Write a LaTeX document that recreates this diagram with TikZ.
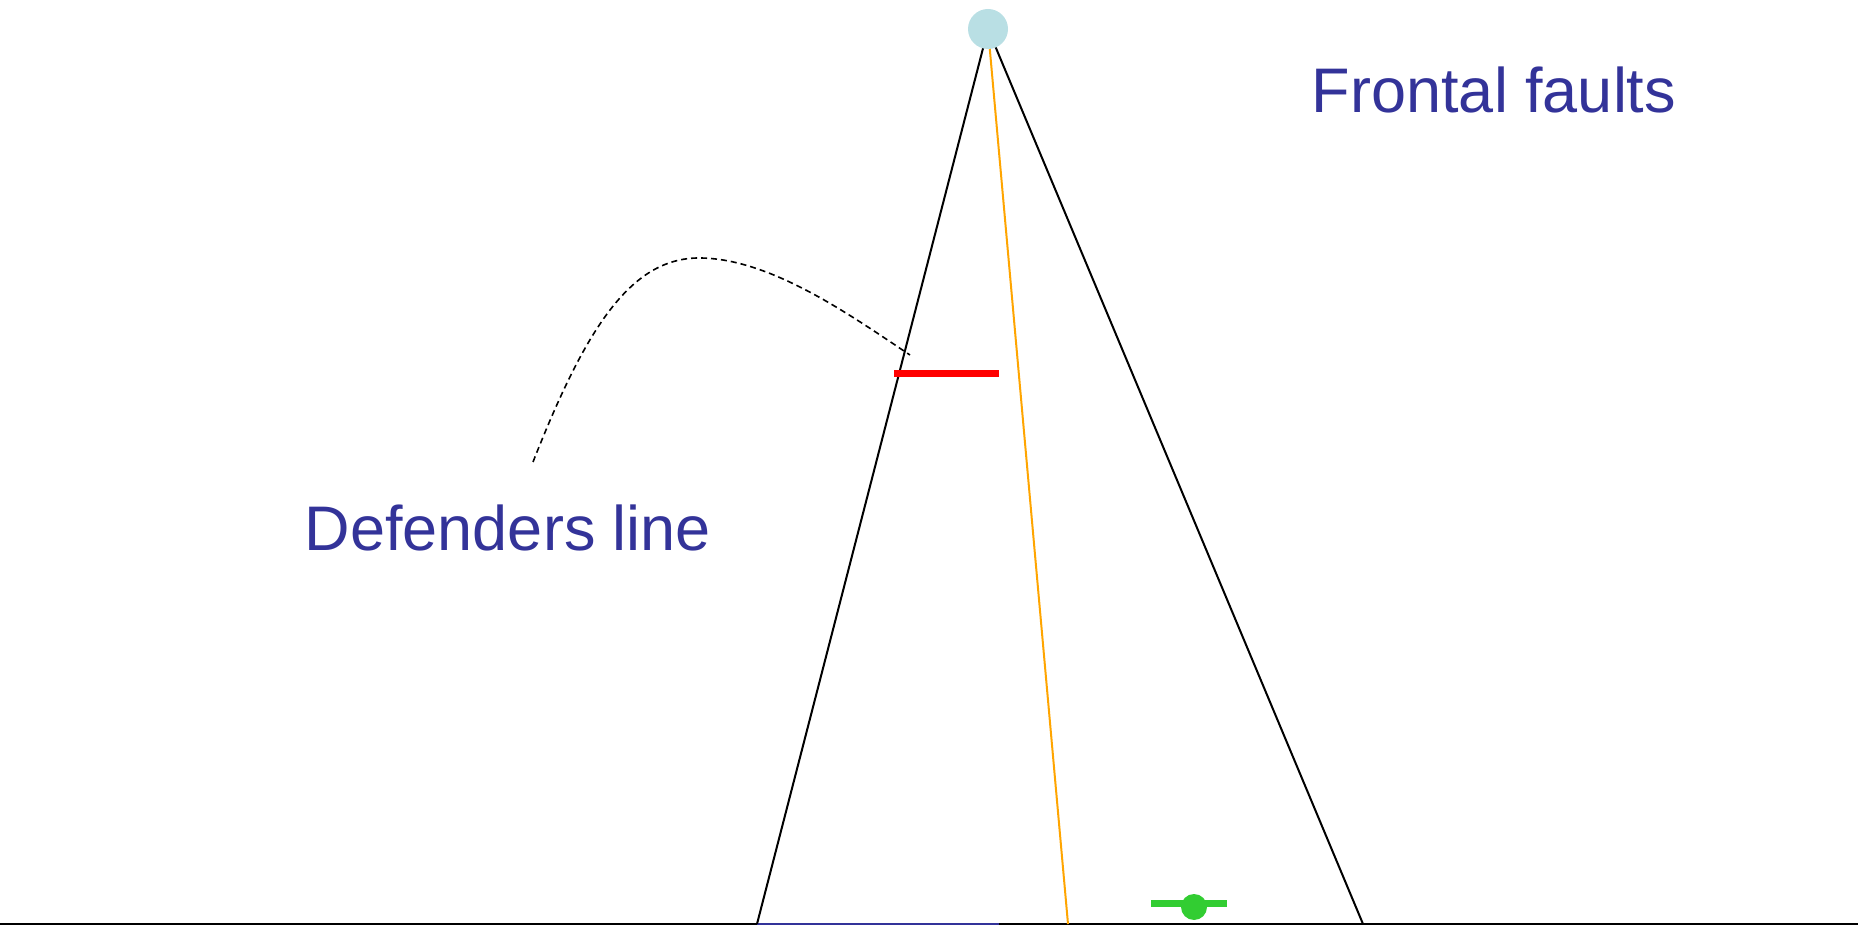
\documentclass[tikz,border=0pt]{standalone}
\usepackage{fontspec}
\setmainfont{Liberation Sans}
\usepackage{xcolor}
\definecolor{faultblue}{RGB}{51,51,153}
\definecolor{apexblue}{RGB}{185,223,228}
\definecolor{rayorange}{RGB}{255,165,0}
\definecolor{markgreen}{RGB}{50,205,50}

\begin{document}
\begin{tikzpicture}[x=0.5pt,y=-0.5pt]
  \useasboundingbox (0,0) rectangle (1858,929);
  \coordinate (P) at (988,29);
  \coordinate (L) at (757,924);
  \coordinate (R) at (1363,924);
  \coordinate (M) at (1068,924);
  \draw[line width=1pt] (0,924)--(1858,924);
  \draw[faultblue,line width=1pt] (L)--(999,924);
  \draw[line width=1pt] (P)--(L);
  \draw[line width=1pt] (P)--(R);
  \draw[rayorange,line width=1pt] (P)--(M);
  \fill[apexblue] (P) circle (20);
  \draw[red,line width=3.5pt] (894,374)--(999,374);
  \draw[markgreen,line width=3.5pt] (1151,903)--(1227,903);
  \fill[markgreen] (1194,907) circle (13);
  \draw[line width=0.8pt,dash pattern=on 3pt off 2pt]
    (533,462) .. controls (585,330) and (630,258) .. (699,258)
    .. controls (770,258) and (850,315) .. (910,355);
  \node[faultblue,font=\fontsize{31.5}{38}\selectfont] (ff) at (1494,90) {Frontal faults};
  \node[faultblue,font=\fontsize{31.5}{38}\selectfont] (dl) at (508,528) {Defenders line};
\end{tikzpicture}
\end{document}
